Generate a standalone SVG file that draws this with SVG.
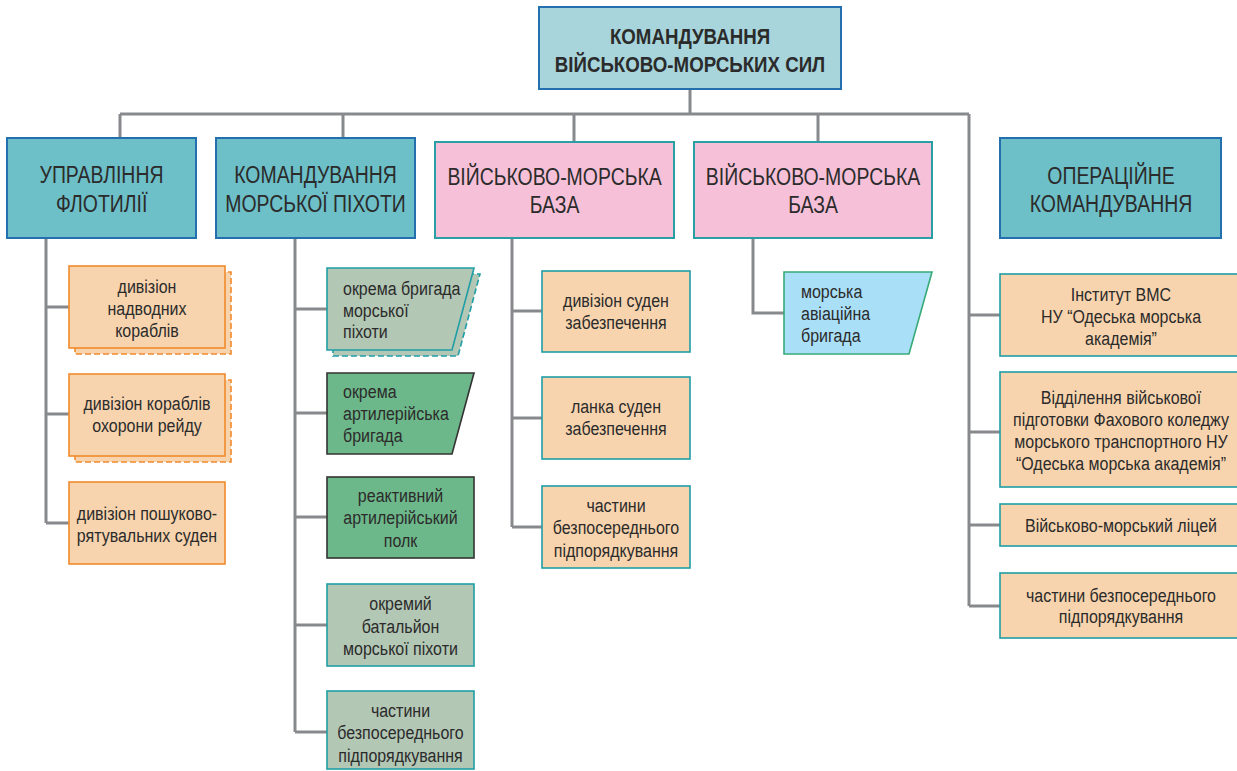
<svg xmlns="http://www.w3.org/2000/svg" width="1237" height="771" viewBox="0 0 1237 771">
<style>
text{font-family:"Liberation Sans",Arial,sans-serif;fill:#2b2b2b;text-anchor:middle;transform-box:fill-box;transform-origin:center}
.h{font-size:24px;transform:scaleX(0.81)}
.t{font-size:18px;transform:scaleX(0.888)}
.l{text-anchor:start;transform-origin:left center}
.top{font-size:22px;font-weight:bold;transform:scaleX(0.85)}
.ln{fill:none;stroke:#88898c;stroke-width:3}
.teal{fill:#6dbfc8;stroke:#2470ae;stroke-width:2}
.pink{fill:#f6c1d8;stroke:#2aa0a6;stroke-width:2}
.or{fill:#f8d4ae;stroke:#f08a2c;stroke-width:1.6}
.ord{fill:#f8d4ae;stroke:#f08a2c;stroke-width:1.6;stroke-dasharray:6 3}
.ort{fill:#f8d4ae;stroke:#1f9ea6;stroke-width:1.6}
.gg{fill:#b3c7b5;stroke:#1f9ea6;stroke-width:1.6}
.ggd{fill:#b3c7b5;stroke:#1f9ea6;stroke-width:1.6;stroke-dasharray:6 3}
.dg{fill:#6db88a;stroke:#333;stroke-width:1.6}
.lb{fill:#aadff8;stroke:#38aa78;stroke-width:1.6}
</style>
<g id="connectors">
<path class="ln" d="M690 89V114M120 114H969M120 114V138M343 114V138M574 114V142M818 114V142"/>
<path class="ln" d="M46 238V523M46 307H69M46 414H69M46 523H69"/>
<path class="ln" d="M295 238V732M295 309H327M295 413H327M295 517H327M295 625H327M295 732H327"/>
<path class="ln" d="M512 238V527M512 311H542M512 418H542M512 527H542"/>
<path class="ln" d="M753 238V313H784"/>
<path class="ln" d="M969 114V606M969 315H1000M969 432H1000M969 525H1000M969 606H1000"/>
</g>
<g id="n-top">
<rect x="539" y="7" width="302" height="82" fill="#a8d5dc" stroke="#2470ae" stroke-width="2"/>
<text class="top" x="690" y="44">КОМАНДУВАННЯ</text>
<text class="top" x="690" y="72">ВІЙСЬКОВО-МОРСЬКИХ СИЛ</text>
</g>
<g id="n-flot">
<rect class="teal" x="7" y="138" width="189" height="100"/>
<text class="h" x="101.5" y="183">УПРАВЛІННЯ</text>
<text class="h" x="101.5" y="212">ФЛОТИЛІЇ</text>
</g>
<g id="n-mp">
<rect class="teal" x="216" y="138" width="199" height="100"/>
<text class="h" x="315.5" y="183">КОМАНДУВАННЯ</text>
<text class="h" x="315.5" y="212">МОРСЬКОЇ ПІХОТИ</text>
</g>
<g id="n-vmb1">
<rect class="pink" x="435" y="142" width="239" height="96"/>
<text class="h" x="554.5" y="185">ВІЙСЬКОВО-МОРСЬКА</text>
<text class="h" x="554.5" y="213">БАЗА</text>
</g>
<g id="n-vmb2">
<rect class="pink" x="694" y="142" width="238" height="96"/>
<text class="h" x="813" y="185">ВІЙСЬКОВО-МОРСЬКА</text>
<text class="h" x="813" y="213">БАЗА</text>
</g>
<g id="n-ok">
<rect class="teal" x="1000" y="138" width="221" height="100"/>
<text class="h" x="1111" y="184">ОПЕРАЦІЙНЕ</text>
<text class="h" x="1111" y="212">КОМАНДУВАННЯ</text>
</g>
<g id="n-dnk">
<rect class="ord" x="75" y="272" width="156" height="82"/>
<rect class="or" x="69" y="266" width="156" height="82"/>
<text class="t" x="147" y="293">дивізіон</text>
<text class="t" x="147" y="315">надводних</text>
<text class="t" x="147" y="337">кораблів</text>
</g>
<g id="n-dkor">
<rect class="ord" x="75" y="380" width="156" height="82"/>
<rect class="or" x="69" y="374" width="156" height="82"/>
<text class="t" x="147" y="410">дивізіон кораблів</text>
<text class="t" x="147" y="432">охорони рейду</text>
</g>
<g id="n-dps">
<rect class="or" x="69" y="482" width="156" height="82"/>
<text class="t" x="147" y="520">дивізіон пошуково-</text>
<text class="t" x="147" y="542">рятувальних суден</text>
</g>
<g id="n-obmp">
<polygon class="ggd" points="333,274 480,274 458,356 333,356"/>
<polygon class="gg" points="327,268 474,268 452,350 327,350"/>
<text class="t l" x="343" y="295">окрема бригада</text>
<text class="t l" x="343" y="317">морської</text>
<text class="t l" x="343" y="338">піхоти</text>
</g>
<g id="n-oab">
<polygon class="dg" points="327,373 474,373 452,454 327,454"/>
<text class="t l" x="343" y="398">окрема</text>
<text class="t l" x="343" y="420">артилерійська</text>
<text class="t l" x="343" y="442">бригада</text>
</g>
<g id="n-rap">
<rect class="dg" x="327" y="477" width="147" height="81"/>
<text class="t" x="400.5" y="502">реактивний</text>
<text class="t" x="400.5" y="524">артилерійський</text>
<text class="t" x="400.5" y="547">полк</text>
</g>
<g id="n-obat">
<rect class="gg" x="327" y="584" width="147" height="82"/>
<text class="t" x="400.5" y="610">окремий</text>
<text class="t" x="400.5" y="633">батальйон</text>
<text class="t" x="400.5" y="655">морської піхоти</text>
</g>
<g id="n-mpbp">
<rect class="gg" x="327" y="691" width="147" height="78"/>
<text class="t" x="400.5" y="717">частини</text>
<text class="t" x="400.5" y="739">безпосереднього</text>
<text class="t" x="400.5" y="762">підпорядкування</text>
</g>
<g id="n-dsz">
<rect class="ort" x="542" y="271" width="148" height="81"/>
<text class="t" x="616" y="307">дивізіон суден</text>
<text class="t" x="616" y="329">забезпечення</text>
</g>
<g id="n-lsz">
<rect class="ort" x="542" y="377" width="148" height="82"/>
<text class="t" x="616" y="413">ланка суден</text>
<text class="t" x="616" y="435">забезпечення</text>
</g>
<g id="n-vmbbp">
<rect class="ort" x="542" y="486" width="148" height="82"/>
<text class="t" x="616" y="512">частини</text>
<text class="t" x="616" y="534">безпосереднього</text>
<text class="t" x="616" y="557">підпорядкування</text>
</g>
<g id="n-mab">
<polygon class="lb" points="784,272 932,272 909,354 784,354"/>
<text class="t l" x="801" y="298">морська</text>
<text class="t l" x="801" y="320">авіаційна</text>
<text class="t l" x="801" y="342">бригада</text>
</g>
<g id="n-inst">
<rect class="ort" x="1000" y="274" width="244" height="82"/>
<text class="t" x="1121" y="301">Інститут ВМС</text>
<text class="t" x="1121" y="323">НУ “Одеська морська</text>
<text class="t" x="1121" y="345">академія”</text>
</g>
<g id="n-vvp">
<rect class="ort" x="1000" y="372" width="244" height="115"/>
<text class="t" x="1121" y="404">Відділення військової</text>
<text class="t" x="1121" y="426">підготовки Фахового коледжу</text>
<text class="t" x="1121" y="448">морського транспортного НУ</text>
<text class="t" x="1121" y="470">“Одеська морська академія”</text>
</g>
<g id="n-lic">
<rect class="ort" x="1000" y="504" width="244" height="42"/>
<text class="t" x="1121" y="532">Військово-морський ліцей</text>
</g>
<g id="n-okbp">
<rect class="ort" x="1000" y="573" width="244" height="65"/>
<text class="t" x="1121" y="602">частини безпосереднього</text>
<text class="t" x="1121" y="623">підпорядкування</text>
</g>
</svg>
